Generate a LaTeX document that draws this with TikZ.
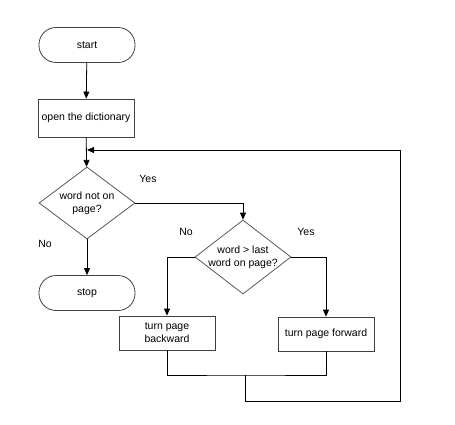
\documentclass[tikz,border=0pt]{standalone}
\usepackage{fontspec}
\setmainfont{Liberation Sans}
\usetikzlibrary{shapes.geometric,arrows.meta}
\begin{document}
\begin{tikzpicture}[x=1pt, y=-1pt, >={Triangle[length=7pt,width=6pt]}, line width=0.8pt,
    every node/.style={font=\fontsize{10.5}{13}\selectfont},
    term/.style={draw=black!75, rounded corners=17pt, minimum width=96pt, minimum height=35pt},
    proc/.style={draw=black!75, minimum width=96pt, minimum height=36pt, align=center},
    decide/.style={draw=black!65, diamond, inner sep=0pt, minimum width=96pt, minimum height=72pt}]
    \useasboundingbox (0,0) rectangle (455,425);

    \node[term] (start) at (87,45) {start};
    \node[proc, minimum height=38pt] (open) at (86,118) {open the dictionary};
    \node[decide, label={[align=center]center:word not on\\page?}] (notonpage) at (87,203) {};
    \node[term] (stop) at (87,293) {stop};
    \node[decide, minimum height=74pt, label={[align=center]center:word > last\\word on page?}] (greater) at (243,257) {};
    \node[proc, minimum height=34pt] (back) at (167,333) {turn page\\backward};
    \node[proc, minimum height=34pt] (fwd) at (326,334) {turn page forward};

    \node (yes1) at (148,179) {Yes};
    \node (no1) at (45,244) {No};
    \node (no2) at (186,232) {No};
    \node (yes2) at (306,232) {Yes};

    \coordinate (loop) at (87,150);
    \coordinate (join) at (245,375);
    \coordinate (corner) at (400,401);

    \draw[->] (start) -- (open);
    \draw[->] (open) -- (notonpage);
    \draw[->] (notonpage) -- (stop);
    \draw[->] (notonpage.east) -| (greater.north);
    \draw[->] (greater.west) -| (back.north);
    \draw[->] (greater.east) -| (fwd.north);
    \draw (back.south) |- (join) -| (fwd.south);
    \draw[->] (join) |- (corner) |- (loop);
\end{tikzpicture}
\end{document}
